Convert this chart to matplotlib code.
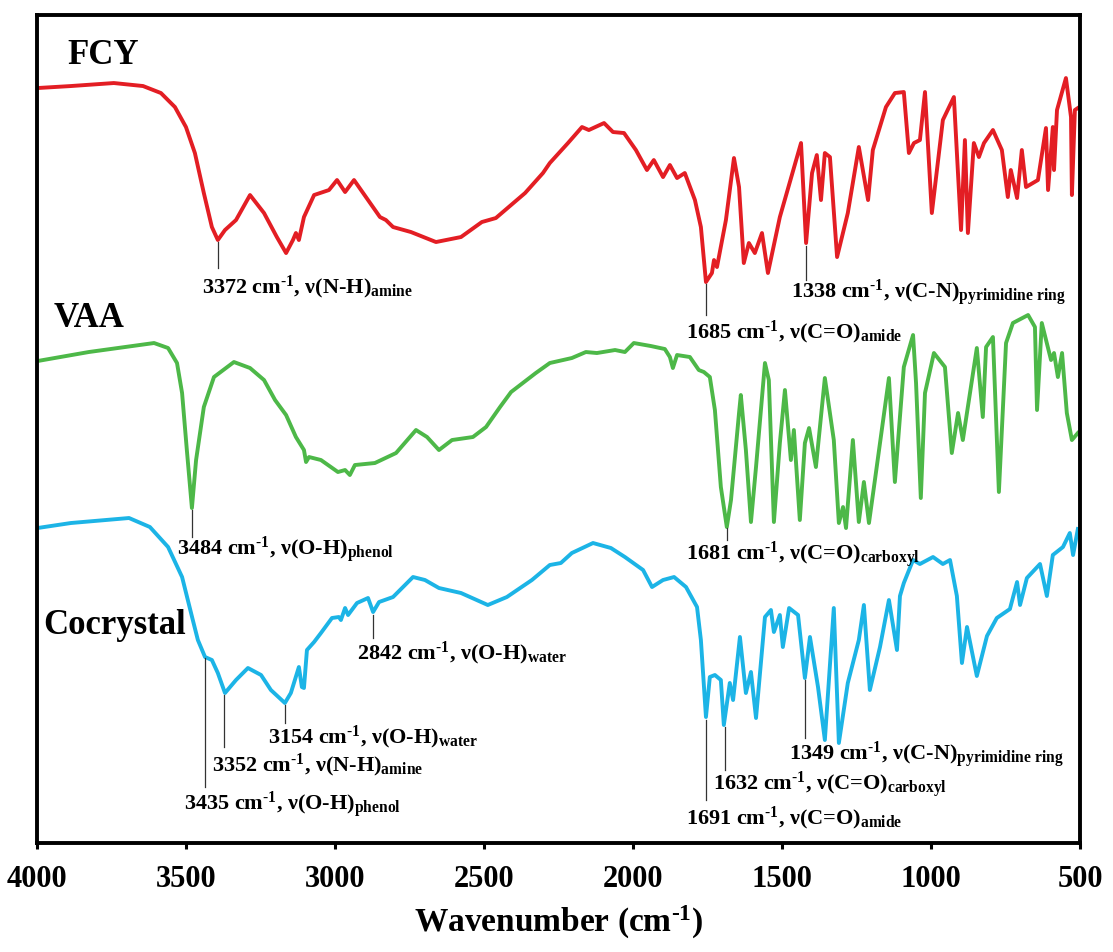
import matplotlib
matplotlib.use("Agg")
import matplotlib.pyplot as plt

plt.rcParams["font.family"] = ["Liberation Serif", "DejaVu Serif"]
plt.rcParams["font.weight"] = "bold"
plt.rcParams["mathtext.fontset"] = "custom"
plt.rcParams["mathtext.rm"] = "Liberation Serif:bold"
plt.rcParams["mathtext.bf"] = "Liberation Serif:bold"
plt.rcParams["mathtext.it"] = "Liberation Serif:bold:italic"

# FTIR spectra (transmittance, arbitrary units, stacked)
wn_fcy = [3998, 3886, 3742, 3644, 3584, 3537, 3500, 3470, 3440, 3413,
          3393, 3369, 3332, 3285, 3238, 3195, 3164, 3141, 3131, 3121,
          3104, 3070, 3020, 2993, 2966, 2936, 2889, 2849, 2829, 2805,
          2745, 2661, 2577, 2507, 2460, 2362, 2302,
          2279, 2218, 2171, 2148, 2097, 2067, 2030, 1990, 1953, 1930,
          1899, 1876, 1852, 1826, 1792, 1772, 1755, 1735, 1728, 1718,
          1688, 1661, 1644, 1628, 1611, 1591, 1567, 1547, 1507, 1436,
          1419, 1399, 1383, 1369, 1356, 1339, 1315, 1279, 1242, 1211,
          1195, 1151, 1121, 1091, 1074, 1057, 1037, 1020, 997, 960,
          923, 899, 886, 876, 856, 839, 822, 792, 762, 742,
          732, 711, 695, 681, 641, 614, 607, 591, 587, 577,
          547, 530, 527, 517, 507]
t_fcy = [75.5, 75.7, 76.0, 75.7, 75.0, 73.6, 71.6, 69.0, 65.0, 61.6,
         60.3, 61.3, 62.3, 64.8, 63.0, 60.6, 59.0, 60.3, 61.0, 60.3,
         62.6, 64.8, 65.3, 66.3, 65.1, 66.3, 64.3, 62.6, 62.3, 61.6,
         61.1, 60.1, 60.6, 62.1, 62.5, 65.0, 67.0,
         68.0, 70.0, 71.6, 71.3, 72.0, 71.1, 71.0, 69.3, 67.3, 68.3,
         66.6, 67.8, 66.5, 67.0, 64.3, 61.6, 56.1, 57.0, 58.3, 57.6,
         62.3, 68.5, 65.6, 58.0, 60.0, 59.0, 61.0, 57.0, 62.6, 70.0,
         60.0, 67.0, 68.8, 64.3, 69.0, 68.6, 58.6, 63.0, 69.6, 64.3,
         69.3, 73.6, 75.0, 75.1, 69.0, 70.0, 70.3, 75.1, 63.0, 72.3,
         74.6, 61.3, 70.3, 61.0, 70.0, 68.6, 70.0, 71.3, 69.3, 64.6,
         67.3, 64.5, 69.3, 65.6, 66.3, 71.5, 65.3, 71.6, 67.3, 73.3,
         76.5, 72.6, 64.8, 73.3, 73.5]

wn_vaa = [3998, 3826, 3607, 3560, 3530, 3513, 3497, 3480, 3466, 3440,
          3406, 3339, 3285, 3238, 3201, 3164, 3131, 3104, 3097, 3087,
          3047, 2990, 2966, 2950, 2933, 2866, 2795, 2728, 2691, 2651,
          2607, 2537, 2493, 2446, 2409, 2326,
          2279, 2205, 2158, 2121, 2060, 2027, 1997, 1940, 1893, 1876,
          1866, 1852, 1809, 1779, 1762, 1742, 1725, 1705, 1685, 1671,
          1644, 1638, 1621, 1604, 1587, 1557, 1544, 1527, 1507, 1490,
          1470, 1460, 1440, 1423, 1409, 1386, 1356, 1326, 1309, 1295,
          1285, 1262, 1242, 1225, 1208, 1188, 1141, 1121, 1091, 1060,
          1050, 1034, 1020, 990, 953, 930, 909, 893, 846, 826,
          815, 792, 772, 748, 725, 674, 651, 644, 628, 597,
          587, 574, 560, 544, 527, 507]
t_vaa = [48.2, 49.1, 50.0, 49.5, 48.0, 45.0, 39.3, 33.5, 38.3, 43.6,
         46.6, 48.1, 47.5, 46.3, 44.3, 42.8, 40.6, 39.3, 38.1, 38.6,
         38.3, 37.1, 37.3, 36.8, 37.8, 38.0, 39.0, 41.3, 40.6, 39.3,
         40.3, 40.6, 41.6, 43.6, 45.1, 47.0,
         48.0, 48.5, 49.1, 49.0, 49.3, 49.1, 50.0, 49.7, 49.4, 48.6,
         47.5, 48.8, 48.6, 47.3, 47.1, 46.6, 43.3, 35.6, 31.6, 34.3,
         43.0, 44.8, 39.3, 32.1, 37.6, 48.0, 46.3, 32.1, 40.0, 45.3,
         38.3, 41.3, 32.3, 40.0, 41.5, 37.6, 46.5, 40.3, 32.0, 33.6,
         31.5, 40.3, 32.1, 36.1, 32.0, 36.3, 46.5, 36.1, 47.6, 50.8,
         46.0, 34.5, 45.0, 49.0, 47.6, 39.0, 43.0, 40.3, 49.5, 42.6,
         49.6, 50.6, 35.1, 50.0, 52.0, 52.8, 51.6, 43.3, 52.0, 48.3,
         49.0, 46.6, 49.0, 43.0, 40.3, 41.0]

wn_co = [3998, 3886, 3691, 3621, 3560, 3513, 3477,
         3460, 3436, 3413, 3393, 3369, 3332, 3292, 3248, 3215, 3168,
         3148, 3121, 3111, 3104, 3094, 3070, 3047, 3010, 2987, 2980,
         2966, 2956, 2926, 2889, 2872, 2852,
         2805, 2738, 2698, 2651, 2577, 2487, 2423, 2339,
         2279, 2242, 2205, 2134, 2074, 2027, 1966, 1936, 1899, 1862, 1822, 1785,
         1772, 1755, 1742, 1725, 1705, 1695, 1675, 1664, 1641, 1621,
         1604, 1587, 1557, 1537, 1527, 1507, 1497, 1476, 1446, 1423,
         1406, 1379, 1356, 1326, 1309, 1279, 1242, 1225, 1205, 1171,
         1141, 1114, 1104, 1091, 1060, 1037, 993, 960, 936, 913,
         896, 879, 846, 812, 779, 735, 711, 701, 678, 634,
         611, 591, 557, 534, 523, 507]
t_co = [31.5, 32.0, 32.5, 31.6, 29.6, 26.6, 22.3,
        20.3, 18.6, 18.3, 17.0, 15.0, 16.3, 17.5, 16.8, 15.3, 14.0,
        15.0, 17.6, 15.6, 15.5, 19.3, 20.1, 21.0, 22.5, 22.6, 22.3,
        23.5, 22.8, 24.0, 24.5, 23.1, 24.1,
        24.6, 26.6, 26.3, 25.5, 25.0, 23.8, 24.6, 26.3,
        27.8, 28.0, 29.0, 30.0, 29.5, 28.6, 27.3, 25.6, 26.3, 26.6, 25.6, 23.6,
        20.3, 12.6, 16.6, 16.8, 16.3, 11.8, 16.0, 14.3, 20.6, 15.0,
        17.1, 12.5, 22.6, 23.3, 21.1, 22.8, 19.6, 23.5, 22.8, 16.5,
        20.6, 15.6, 10.3, 23.5, 10.0, 16.0, 20.3, 23.8, 15.3, 19.6,
        24.3, 19.3, 24.7, 26.0, 28.3, 27.9, 28.6, 27.9, 28.3, 24.7,
        18.0, 21.6, 16.7, 20.7, 22.5, 23.4, 26.1, 23.8, 26.5, 27.9,
        24.7, 28.8, 29.6, 31.0, 28.8, 31.4]

series = [("FCY", wn_fcy, t_fcy, "#e31e24"),
          ("VAA", wn_vaa, t_vaa, "#4db848"),
          ("Cocrystal", wn_co, t_co, "#1cb4e6")]

# sample names: (label, x, y)
names = [("FCY", 3899, 78.8), ("VAA", 3943, 52.5), ("Cocrystal", 3980, 21.8)]

CM = r"cm$^{\text{-1}}$"
# peak labels: (text, line x, line top, line bottom, text x, text y)
peaks = [
    ("3372 " + CM + r", ν(N-H)$_{\mathrm{amine}}$", 3393, 60.1, 57.5, 3446, 55.6),
    ("1685 " + CM + r", ν(C=O)$_{\mathrm{amide}}$", 1755, 55.9, 52.8, 1822, 51.1),
    ("1338 " + CM + r", ν(C-N)$_{\mathrm{pyrimidine\ ring}}$", 1419, 59.7, 56.3, 1470, 55.0),
    ("3484 " + CM + r", ν(O-H)$_{\mathrm{phenol}}$", 3480, 33.3, 30.6, 3530, 29.3),
    ("1681 " + CM + r", ν(C=O)$_{\mathrm{carboxyl}}$", 1685, 31.5, 30.3, 1822, 28.8),
    ("3435 " + CM + r", ν(O-H)$_{\mathrm{phenol}}$", 3436, 18.5, 5.6, 3507, 3.8),
    ("3352 " + CM + r", ν(N-H)$_{\mathrm{amine}}$", 3372, 14.8, 9.6, 3413, 7.8),
    ("3154 " + CM + r", ν(O-H)$_{\mathrm{water}}$", 3168, 13.8, 12.0, 3225, 10.6),
    ("2842 " + CM + r", ν(O-H)$_{\mathrm{water}}$", 2872, 22.8, 20.5, 2926, 19.0),
    ("1691 " + CM + r", ν(C=O)$_{\mathrm{amide}}$", 1755, 12.3, 4.3, 1822, 2.5),
    ("1632 " + CM + r", ν(C=O)$_{\mathrm{carboxyl}}$", 1691, 11.6, 7.3, 1732, 5.8),
    ("1349 " + CM + r", ν(C-N)$_{\mathrm{pyrimidine\ ring}}$", 1423, 16.3, 10.5, 1476, 8.8),
]

fig = plt.figure(figsize=(11.13, 9.52), dpi=100)
ax = fig.add_axes([0.0332, 0.1145, 0.9371, 0.8697])

for name, x, y, c in series:
    ax.plot(x, y, color=c, lw=2.8, solid_joinstyle="round")

for name, x, y in names:
    ax.text(x, y, name, fontsize=25, fontweight="bold", ha="left", va="center")

for txt, lx, y0, y1, tx, ty in peaks:
    ax.plot([lx, lx], [y0, y1], color="#333333", lw=0.9)
    ax.text(tx, ty, txt, fontsize=16, fontweight="bold", ha="left", va="center")

ax.set_xlim(4000, 500)
ax.set_ylim(0, 82.8)
ax.set_yticks([])
ax.set_xticks([4000, 3500, 3000, 2500, 2000, 1500, 1000, 500])
ax.tick_params(axis="x", direction="out", length=4, width=2.2, labelsize=22, pad=12)
for lab in ax.get_xticklabels():
    lab.set_fontweight("bold")
for s in ax.spines.values():
    s.set_linewidth(2.8)
ax.set_xlabel("Wavenumber (" + CM + ")", fontsize=24, fontweight="bold", labelpad=7)

fig.savefig("out.png", dpi=100)
